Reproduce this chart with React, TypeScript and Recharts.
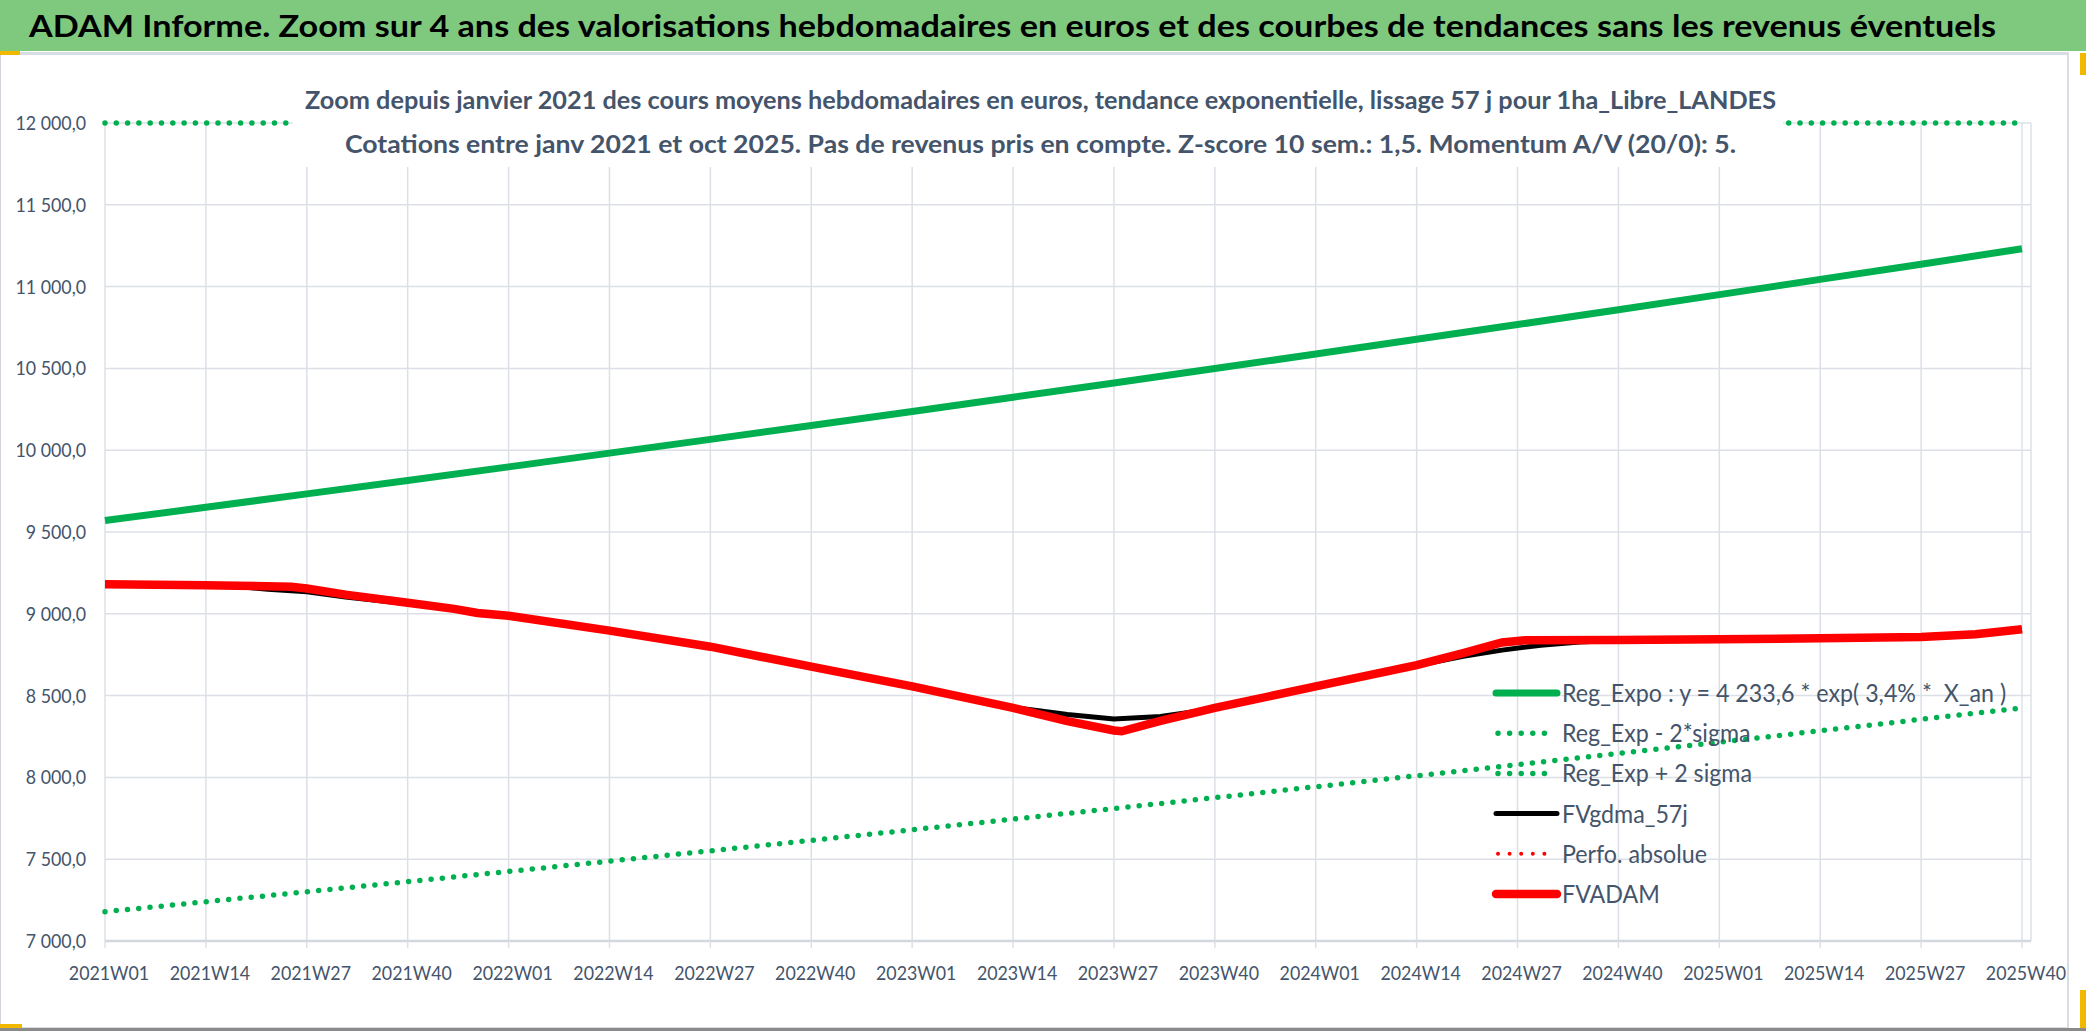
import React from 'react'
import { LineChart, Line, XAxis, YAxis, CartesianGrid } from 'recharts'

// weekly categories, 2021W01 .. 2025W40
const years = [2021, 2022, 2023, 2024, 2025]
const lastWeekOf2025 = 40
const weeks: string[] = []
years.forEach((y) => {
  const last = y === 2025 ? lastWeekOf2025 : 52
  for (let w = 1; w <= last; w++) weeks.push(`${y}W${String(w).padStart(2, '0')}`)
})

const tickWeeks = [
  '2021W01', '2021W14', '2021W27', '2021W40', '2022W01', '2022W14', '2022W27', '2022W40',
  '2023W01', '2023W14', '2023W27', '2023W40', '2024W01', '2024W14', '2024W27', '2024W40',
  '2025W01', '2025W14', '2025W27', '2025W40',
]
const yTicks = [7000, 7500, 8000, 8500, 9000, 9500, 10000, 10500, 11000, 11500, 12000]

// values read at each tick week
const regExpo = [9570, 9651, 9733, 9815, 9898, 9982, 10066, 10151, 10237, 10324, 10411, 10499, 10588, 10678, 10768, 10859, 10951, 11044, 11137, 11231]
const regExpMinus2Sigma = [7179, 7240, 7301, 7363, 7425, 7488, 7551, 7615, 7680, 7745, 7810, 7876, 7943, 8010, 8078, 8146, 8215, 8285, 8355, 8425]
// clipped at the top of the plot in the picture
const regExpPlus2Sigma = [12000, 12000, 12000, 12000, 12000, 12000, 12000, 12000, 12000, 12000, 12000, 12000, 12000, 12000, 12000, 12000, 12000, 12000, 12000, 12000]

const fvadamWeeks = ['2021W01', '2021W14', '2021W18', '2021W25', '2021W27', '2021W32', '2021W40', '2021W46', '2021W49', '2022W01', '2022W14', '2022W27', '2022W40', '2023W01', '2023W14', '2023W21', '2023W27', '2023W28', '2023W33', '2023W40', '2024W01', '2024W14', '2024W20', '2024W25', '2024W28', '2024W40', '2025W01', '2025W14', '2025W27', '2025W34', '2025W40']
const fvadamValues = [9180, 9175, 9172, 9165, 9155, 9117, 9068, 9030, 9005, 8988, 8897, 8799, 8677, 8556, 8425, 8344, 8287, 8282, 8345, 8425, 8556, 8686, 8760, 8825, 8838, 8840, 8845, 8850, 8858, 8875, 8905]

const fvgdmaWeeks = ['2021W01', '2021W14', '2021W18', '2021W22', '2021W27', '2021W32', '2021W40', '2021W46', '2021W49', '2022W01', '2022W14', '2022W27', '2022W40', '2023W01', '2023W14', '2023W21', '2023W27', '2023W33', '2023W40', '2024W01', '2024W14', '2024W20', '2024W25', '2024W30', '2024W35', '2024W40', '2025W01', '2025W14', '2025W27', '2025W34', '2025W40']
const fvgdmaValues = [9180, 9175, 9168, 9150, 9135, 9103, 9062, 9028, 9003, 8986, 8895, 8797, 8675, 8554, 8428, 8385, 8357, 8372, 8420, 8554, 8684, 8740, 8778, 8808, 8828, 8838, 8844, 8849, 8856, 8873, 8903]

// no visible values in the picture
const perfoWeeks: string[] = []
const perfoValues: number[] = []

const toMap = (keys: string[], vals: number[]) => new Map(keys.map((k, i) => [k, vals[i]]))
const mExpo = toMap(tickWeeks, regExpo)
const mMinus = toMap(tickWeeks, regExpMinus2Sigma)
const mPlus = toMap(tickWeeks, regExpPlus2Sigma)
const mGdma = toMap(fvgdmaWeeks, fvgdmaValues)
const mAdam = toMap(fvadamWeeks, fvadamValues)
const mPerfo = toMap(perfoWeeks, perfoValues)

const data = weeks.map((week) => ({
  week,
  regExpo: mExpo.get(week) ?? null,
  regMinus: mMinus.get(week) ?? null,
  regPlus: mPlus.get(week) ?? null,
  fvgdma: mGdma.get(week) ?? null,
  perfo: mPerfo.get(week) ?? null,
  fvadam: mAdam.get(week) ?? null,
}))

const FONT = 'Lato, "Open Sans", sans-serif'
const TXT = '#44546A'
const GRID = '#DCE0E6'
const GREEN = '#00B050'
const RED = '#FF0000'

const fmt = (v: number) => `${Math.floor(v / 1000)} ${String(v % 1000).padStart(3, '0')},0`

const YTick = (p: any) => (
  <text transform={`translate(${p.x},${p.y + 7}) scale(0.89,1)`} textAnchor="end" fill={TXT} fontSize={20} fontFamily={FONT}>
    {fmt(p.payload.value)}
  </text>
)

const XTick = (p: any) => (
  <text transform={`translate(${p.x + 4},${p.y + 32}) scale(0.89,1)`} textAnchor="middle" fill={TXT} fontSize={20} fontFamily={FONT}>
    {p.payload.value}
  </text>
)

const legendItems = [
  { name: 'Reg_Expo : y = 4 233,6 * exp( 3,4% *  X_an )', color: GREEN, width: 7, dotted: false },
  { name: 'Reg_Exp - 2*sigma', color: GREEN, width: 5.5, dotted: true },
  { name: 'Reg_Exp + 2 sigma', color: GREEN, width: 5.5, dotted: true },
  { name: 'FVgdma_57j', color: '#000000', width: 5, dotted: false },
  { name: 'Perfo. absolue', color: RED, width: 4, dotted: true },
  { name: 'FVADAM', color: RED, width: 8.5, dotted: false },
]

export default function App() {
  return (
    <div style={{ position: 'absolute', left: 0, top: 0, width: 2086, height: 1031, background: '#fff', overflow: 'hidden', fontFamily: FONT }}>
      {/* banner */}
      <div style={{ position: 'absolute', left: 0, top: 0, width: 2086, height: 51, background: '#7FC97F' }}>
        <svg width={2086} height={51}>
          <text x={29} y={37} fontSize={31} fontWeight={700} fill="#000" fontFamily={FONT} textLength={1967} lengthAdjust="spacingAndGlyphs">
            ADAM Informe. Zoom sur 4 ans des valorisations hebdomadaires en euros et des courbes de tendances sans les revenus éventuels
          </text>
        </svg>
      </div>
      {/* chart frame */}
      <div style={{ position: 'absolute', left: 0, top: 52, width: 2066, height: 972, borderTop: '3px solid #D9DDE3', borderLeft: '1px solid #D0D4DA', borderRight: '2px solid #D9DDE3', borderBottom: '2px solid #D9DDE3' }} />
      <div style={{ position: 'absolute', left: 0, top: 1028, width: 2086, height: 3, background: '#8A8A8A' }} />
      <div style={{ position: 'absolute', left: 0, top: 51, width: 20, height: 4, background: '#F2B800' }} />
      <div style={{ position: 'absolute', left: 2080, top: 53, width: 6, height: 22, background: '#F2B800' }} />
      <div style={{ position: 'absolute', left: 2080, top: 990, width: 6, height: 38, background: '#F2B800' }} />
      <div style={{ position: 'absolute', left: 0, top: 1024, width: 22, height: 4, background: '#F2B800' }} />

      <div style={{ position: 'absolute', left: 0, top: 0 }}>
        <LineChart width={2086} height={1031} data={data} margin={{ top: 123, right: 55, left: 10, bottom: 30 }}>
          <CartesianGrid stroke={GRID} strokeWidth={1.5} />
          <XAxis
            dataKey="week"
            scale="point"
            ticks={tickWeeks}
            interval={0}
            padding={{ left: 0, right: 9 }}
            height={60}
            tickSize={7}
            tickMargin={0}
            tickLine={{ stroke: GRID, strokeWidth: 1.5 }}
            axisLine={{ stroke: '#D3D8DF', strokeWidth: 2.5 }}
            tick={<XTick />}
          />
          <YAxis
            domain={[7000, 12000]}
            ticks={yTicks}
            width={95}
            tickSize={0}
            tickMargin={19}
            axisLine={false}
            tickLine={false}
            tick={<YTick />}
          />
          <Line dataKey="regExpo" stroke={GREEN} strokeWidth={7} dot={false} connectNulls isAnimationActive={false} />
          <Line dataKey="regMinus" stroke={GREEN} strokeWidth={5.5} strokeDasharray="0 11.3" strokeLinecap="round" dot={false} connectNulls isAnimationActive={false} />
          <Line dataKey="regPlus" stroke={GREEN} strokeWidth={5.5} strokeDasharray="0 11.3" strokeLinecap="round" dot={false} connectNulls isAnimationActive={false} />
          <Line dataKey="fvgdma" stroke="#000" strokeWidth={5} dot={false} connectNulls isAnimationActive={false} />
          <Line dataKey="perfo" stroke={RED} strokeWidth={4} strokeDasharray="0 10" strokeLinecap="round" dot={false} connectNulls isAnimationActive={false} />
          <Line dataKey="fvadam" stroke={RED} strokeWidth={8.5} dot={false} connectNulls isAnimationActive={false} />
        </LineChart>
      </div>

      {/* subtitle box */}
      <div style={{ position: 'absolute', left: 293, top: 60, width: 1490, height: 107, background: '#fff' }}>
        <svg width={1490} height={107}>
          <text x={12} y={49} fontSize={25} fontWeight={700} fill={TXT} fontFamily={FONT} textLength={1471} lengthAdjust="spacingAndGlyphs">
            Zoom depuis janvier 2021 des cours moyens hebdomadaires en euros, tendance exponentielle, lissage 57 j pour 1ha_Libre_LANDES
          </text>
          <text x={52} y={93} fontSize={25} fontWeight={700} fill={TXT} fontFamily={FONT} textLength={1391} lengthAdjust="spacingAndGlyphs">
            Cotations entre janv 2021 et oct 2025. Pas de revenus pris en compte. Z-score 10 sem.: 1,5. Momentum A/V (20/0): 5.
          </text>
        </svg>
      </div>

      {/* legend */}
      <svg style={{ position: 'absolute', left: 1490, top: 670 }} width={590} height={250}>
        {legendItems.map((it, i) => {
          const cy = 23 + i * 40.2
          return (
            <g key={it.name}>
              <line
                x1={it.dotted ? 8 : 6}
                x2={it.dotted ? 66 : 67}
                y1={cy}
                y2={cy}
                stroke={it.color}
                strokeWidth={it.width}
                strokeDasharray={it.dotted ? '0 11.6' : undefined}
                strokeLinecap="round"
              />
              <text transform={`translate(72,${cy + 9}) scale(0.93,1)`} fontSize={25} fill={TXT} fontFamily={FONT} style={{ whiteSpace: 'pre' }}>
                {it.name}
              </text>
            </g>
          )
        })}
      </svg>
    </div>
  )
}
